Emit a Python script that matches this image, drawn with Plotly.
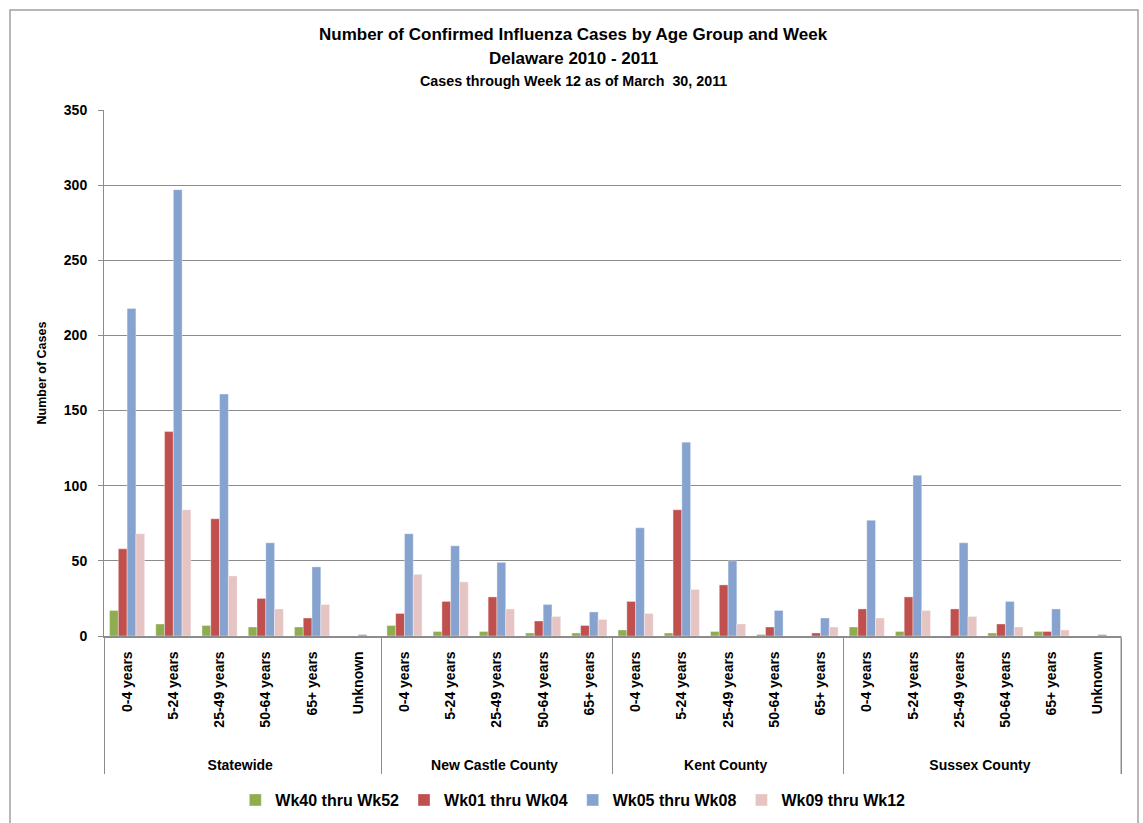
import plotly.graph_objects as go

groups = ["Statewide", "New Castle County", "Kent County", "Sussex County"]
ages_by_group = [
    ["0-4 years", "5-24 years", "25-49 years", "50-64 years", "65+ years", "Unknown"],
    ["0-4 years", "5-24 years", "25-49 years", "50-64 years", "65+ years"],
    ["0-4 years", "5-24 years", "25-49 years", "50-64 years", "65+ years"],
    ["0-4 years", "5-24 years", "25-49 years", "50-64 years", "65+ years", "Unknown"],
]
series_names = ["Wk40 thru Wk52", "Wk01 thru Wk04", "Wk05 thru Wk08", "Wk09 thru Wk12"]
wk40_52 = [17, 8, 7, 6, 6, 0,   7, 3, 3, 2, 2,   4, 2, 3, 1, 0,   6, 3, 0, 2, 3, 0]
wk01_04 = [58, 136, 78, 25, 12, 0,   15, 23, 26, 10, 7,   23, 84, 34, 6, 2,   18, 26, 18, 8, 3, 0]
wk05_08 = [218, 297, 161, 62, 46, 1,   68, 60, 49, 21, 16,   72, 129, 50, 17, 12,   77, 107, 62, 23, 18, 1]
wk09_12 = [68, 84, 40, 18, 21, 0,   41, 36, 18, 13, 11,   15, 31, 8, 0, 6,   12, 17, 13, 6, 4, 0]
colors = ["#8FAD50", "#C0504D", "#86A2CF", "#E6C4C4"]

outer = [g for g, ages in zip(groups, ages_by_group) for _ in ages]
# leading non-breaking spaces push the group labels further below the axis
inner = ["\u00a0" * 6 + a for ages in ages_by_group for a in ages]

FONT = "Liberation Sans, Arial, sans-serif"
GRID = "#8C8C8C"

fig = go.Figure()
for name, vals, col in zip(series_names, [wk40_52, wk01_04, wk05_08, wk09_12], colors):
    fig.add_trace(go.Bar(
        x=[outer, inner], y=vals, name=name,
        marker=dict(color=col, line=dict(color="rgba(255,255,255,0.6)", width=0.6)),
    ))

fig.update_layout(
    width=1143, height=823,
    margin=dict(l=104, r=22, t=110, b=187, autoexpand=False),
    paper_bgcolor="white", plot_bgcolor="white",
    barmode="group", bargap=0.24, bargroupgap=0,
    font=dict(family=FONT, color="black"),
    showlegend=True,
    legend=dict(orientation="h", x=0.461, xanchor="center", y=(636 - 800) / 526, yanchor="middle",
                font=dict(size=16, family=FONT, weight="bold"),
                itemwidth=30, traceorder="normal"),
)
fig.update_yaxes(
    range=[0, 350], dtick=50, showgrid=True, gridcolor=GRID, gridwidth=1,
    showline=True, linecolor=GRID, linewidth=1, ticks="outside", ticklen=5,
    tickcolor=GRID, tickfont=dict(size=14, family=FONT, weight="bold"),
    ticklabelstandoff=8,
    title=dict(text="Number of Cases", font=dict(size=12.5, family=FONT, weight="bold"), standoff=14),
    zeroline=False,
)
fig.update_xaxes(
    type="multicategory", showline=True, linecolor=GRID, linewidth=1.5,
    tickangle=-90, tickfont=dict(size=14, family=FONT, weight="bold"),
    ticklabelstandoff=8,
    showdividers=True, dividercolor=GRID, dividerwidth=1, ticks="",
)

titles = [
    ("Number of Confirmed Influenza Cases by Age Group and Week", 17, 34),
    ("Delaware 2010 - 2011", 17, 58),
    ("Cases through Week 12 as of March  30, 2011", 14.3, 81),
]
for text, size, ypix in titles:
    fig.add_annotation(text=text, xref="paper", yref="paper",
                       x=(573 - 104) / 1017, y=(636 - ypix) / 526,
                       showarrow=False, xanchor="center", yanchor="middle",
                       font=dict(size=size, family=FONT, weight="bold"))

# right-hand divider of the category axis
fig.add_shape(type="line", xref="paper", yref="paper",
              x0=1, x1=1, y0=0, y1=(636 - 774) / 526,
              line=dict(color=GRID, width=1))

# chart border
fig.add_shape(type="rect", xref="paper", yref="paper",
              x0=(10 - 104) / 1017, x1=(1138 - 104) / 1017,
              y0=(636 - 840) / 526, y1=(636 - 10) / 526,
              line=dict(color="#A0A0A0", width=1.5), fillcolor="rgba(0,0,0,0)", layer="below")

fig.write_html("out.html", config={"displayModeBar": False},
               post_script="document.body.style.margin='0';document.body.style.padding='0';"
                           "window.dispatchEvent(new Event('resize'));")
